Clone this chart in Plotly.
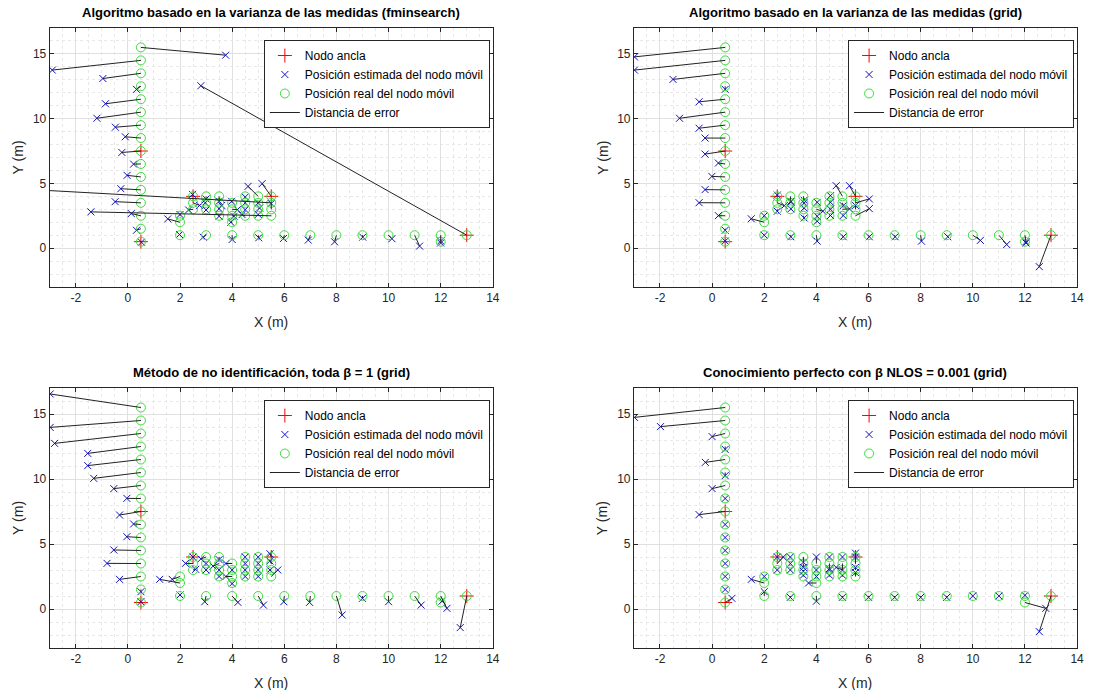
import plotly.graph_objects as go

# ---------------- data ----------------
titles = [
    "Algoritmo basado en la varianza de las medidas (fminsearch)",
    "Algoritmo basado en la varianza de las medidas (grid)",
    "Método de no identificación, toda β = 1 (grid)",
    "Conocimiento perfecto con β NLOS = 0.001 (grid)",
]
legend_names = ["Nodo ancla", "Posición estimada del nodo móvil",
                "Posición real del nodo móvil", "Distancia de error"]

x_tickvals = [-2, 0, 2, 4, 6, 8, 10, 12, 14]
x_ticktext = ["-2", "0", "2", "4", "6", "8", "10", "12", "14"]
y_tickvals = [0, 5, 10, 15]
y_ticktext = ["0", "5", "10", "15"]

anchor_x = [0.5, 0.5, 2.5, 5.5, 13]
anchor_y = [0.5, 7.5, 4, 4, 1]

real_x = [0.5, 0.5, 0.5, 0.5, 0.5, 0.5, 0.5, 0.5, 0.5, 0.5, 0.5, 0.5, 0.5, 0.5, 0.5, 0.5,
          2, 2, 2,
          2.5, 2.5, 2.5,
          3, 3, 3,
          3.5, 3.5, 3.5, 3.5,
          4, 4, 4, 4,
          4.5, 4.5, 4.5, 4.5,
          5, 5, 5, 5,
          5.5, 5.5, 5.5, 5.5,
          3, 4, 5, 6, 7, 8, 9, 10, 11, 12, 13,
          12]
real_y = [15.5, 14.5, 13.5, 12.5, 11.5, 10.5, 9.5, 8.5, 7.5, 6.5, 5.5, 4.5, 3.5, 2.5, 1.5, 0.5,
          2.5, 2, 1,
          4, 3.5, 3,
          4, 3.5, 3,
          4, 3.5, 3, 2.5,
          3.5, 3, 2.5, 2,
          4, 3.5, 3, 2.5,
          4, 3.5, 3, 2.5,
          4, 3.5, 3, 2.5,
          1, 1, 1, 1, 1, 1, 1, 1, 1, 1, 1,
          0.5]

est1_x = [3.75, -2.9, -0.96, 0.33, -0.86, -1.19, -0.48, -0.1, -0.23, 0.22, -0.03, -0.27, -0.49, 0.13, 0.33, 0.52,
          2.0, 1.53, 1.98,
          2.48, 2.75, 2.33,
          3.0, 2.97, 3.0,
          3.5, 3.6, 3.5, 3.5,
          3.98, 4.2, 4.07, 3.95,
          4.5, 4.5, 4.5, 4.38,
          4.61, 5.0, 5.05, 5.0,
          5.15, -3.5, 5.5, -1.42,
          2.89, 4.0, 5.02, 5.97, 6.92, 7.93, 9.01, 10.13, 11.19, 12.0, 2.8,
          12.0]
est1_y = [14.9, 13.75, 13.1, 12.26, 11.15, 10.03, 9.34, 8.6, 7.39, 6.49, 5.62, 4.59, 3.59, 2.67, 1.38, 0.46,
          2.6, 2.26, 1.05,
          4.15, 3.3, 2.95,
          3.8, 3.5, 2.95,
          3.62, 3.3, 3.05, 2.46,
          3.62, 2.97, 2.46, 2.0,
          3.95, 3.5, 2.97, 2.59,
          4.77, 3.5, 3.1, 2.6,
          4.98, 4.5, 3.45, 2.8,
          0.85, 0.67, 0.8, 0.75, 0.62, 0.49, 0.85, 0.73, 0.16, 0.55, 12.54,
          0.4]

est2_x = [-2.98, -2.98, -1.5, 0.5, -0.5, -1.25, -0.5, -0.27, -0.27, 0.24, -0.01, -0.27, -0.5, 0.24, 0.5, 0.5,
          2.0, 1.5, 2.0,
          2.5, 2.77, 2.5,
          3.02, 3.02, 3.02,
          3.53, 3.53, 3.53, 3.53,
          4.03, 4.25, 4.03, 4.03,
          4.54, 4.54, 4.54, 4.54,
          4.76, 5.03, 5.27, 5.03,
          5.27, 6.03, 5.5, 6.03,
          3.02, 4.03, 5.03, 6.03, 7.02, 8.03, 9.04, 10.29, 11.3, 12.04, 12.55,
          12.04]
est2_y = [14.77, 13.75, 13.03, 12.26, 11.3, 10.03, 9.26, 8.5, 7.26, 6.57, 5.54, 4.52, 3.51, 2.51, 1.38, 0.55,
          2.5, 2.27, 1.0,
          4.1, 3.28, 2.85,
          3.62, 3.55, 3.03,
          3.7, 3.49, 3.1, 2.33,
          3.54, 2.85, 2.46, 2.08,
          4.05, 3.54, 3.0, 2.52,
          4.82, 3.28, 3.03, 2.52,
          4.82, 3.8, 3.3, 3.05,
          0.88, 0.54, 0.88, 0.88, 0.88, 0.54, 0.88, 0.6, 0.28, 0.5, -1.43,
          0.4]

est3_x = [-2.98, -2.98, -2.81, -1.54, -1.54, -1.31, -0.54, -0.04, -0.32, 0.22, -0.04, -0.54, -0.8, -0.32, 0.5, 0.5,
          1.7, 1.22, 2.0,
          2.5, 2.21, 2.6,
          2.8, 3.0, 3.0,
          3.5, 3.27, 3.5, 3.5,
          3.76, 4.0, 3.76, 4.0,
          4.5, 4.5, 4.5, 4.5,
          5.0, 5.0, 5.0, 5.0,
          5.45, 5.45, 5.45, 5.75,
          2.95, 4.22, 5.2, 5.98, 6.97, 8.22, 9.0, 10.0, 11.25, 12.24, 12.75,
          12.05]
est3_y = [16.54, 13.97, 12.74, 11.97, 11.03, 10.05, 9.26, 8.51, 7.23, 6.54, 5.56, 4.54, 3.51, 2.28, 1.33, 0.56,
          2.28, 2.28, 1.08,
          4.0, 3.51, 3.05,
          3.85, 3.5, 3.0,
          3.8, 3.3, 3.0, 2.5,
          3.5, 3.0, 2.5, 1.95,
          4.0, 3.5, 3.0, 2.5,
          4.0, 3.5, 3.0, 2.5,
          4.25, 3.7, 3.0, 3.0,
          0.56, 0.51, 0.3, 0.56, 0.51, -0.46, 0.82, 0.56, 0.3, 0.05, -1.43,
          0.6]

est4_x = [-2.98, -1.98, 0.0, 0.5, -0.26, 0.5, 0.0, 0.5, -0.5, 0.5, 0.5, 0.5, 0.5, 0.5, 0.5, 0.76,
          2.0, 1.5, 2.0,
          2.5, 2.73, 2.5,
          3.0, 3.0, 3.0,
          3.5, 3.5, 3.5, 3.5,
          4.0, 4.0, 4.0, 3.7,
          4.5, 4.5, 4.5, 4.5,
          5.0, 5.0, 4.76, 5.0,
          5.5, 5.5, 5.5, 5.5,
          3.0, 4.0, 5.0, 6.0, 7.0, 8.0, 9.0, 10.0, 11.0, 12.0, 12.55,
          12.8]
est4_y = [14.74, 14.03, 13.26, 12.28, 11.28, 10.26, 9.26, 8.5, 7.26, 6.5, 5.5, 4.5, 3.5, 2.5, 1.5, 0.82,
          2.5, 2.28, 1.33,
          4.0, 4.0, 3.0,
          4.0, 3.5, 3.0,
          3.6, 3.2, 2.9, 2.6,
          4.0, 3.0, 2.5, 2.0,
          4.0, 3.1, 3.0, 2.6,
          4.0, 3.0, 3.2, 2.6,
          4.3, 4.0, 3.2, 2.8,
          0.9, 0.6, 0.9, 0.9, 0.9, 0.9, 0.9, 1.0, 1.0, 1.05, -1.74,
          0.05]

x_range = [-3, 14]
y_range = [-3, 17]

# ---------------- layout geometry (pixels) ----------------
W, H = 1095, 690
col_px = [(50, 496), (638, 1084)]
row_px = [(28, 287), (388, 648)]

FONT = "Liberation Sans, Arial, Helvetica, sans-serif"
TXT = "#262626"

fig = go.Figure()

est_sets = [(est1_x, est1_y), (est2_x, est2_y), (est3_x, est3_y), (est4_x, est4_y)]
layout = dict()

for i, (ex, ey) in enumerate(est_sets):
    r, c = divmod(i, 2)
    n = i + 1
    xa = "x" if n == 1 else f"x{n}"
    ya = "y" if n == 1 else f"y{n}"
    lg = "legend" if n == 1 else f"legend{n}"

    lx, ly = [], []
    for a, b, p, q in zip(real_x, real_y, ex, ey):
        lx += [a, p, None]
        ly += [b, q, None]

    fig.add_trace(go.Scatter(x=anchor_x, y=anchor_y, mode="markers", name=legend_names[0],
                             marker=dict(symbol="cross-thin-open", size=10, color="red",
                                         line=dict(color="red", width=1)),
                             xaxis=xa, yaxis=ya, legend=lg))
    fig.add_trace(go.Scatter(x=ex, y=ey, mode="markers", name=legend_names[1],
                             marker=dict(symbol="x-thin-open", size=7, color="#1010c0",
                                         line=dict(color="#1010c0", width=1)),
                             xaxis=xa, yaxis=ya, legend=lg))
    fig.add_trace(go.Scatter(x=real_x, y=real_y, mode="markers", name=legend_names[2],
                             marker=dict(symbol="circle-open", size=9, color="#3ddc3d",
                                         line=dict(color="#3ddc3d", width=1)),
                             xaxis=xa, yaxis=ya, legend=lg))
    fig.add_trace(go.Scatter(x=lx, y=ly, mode="lines", name=legend_names[3],
                             line=dict(color="#222222", width=1),
                             xaxis=xa, yaxis=ya, legend=lg))

    x0, x1 = col_px[c]
    y0, y1 = row_px[r]
    axis_common = dict(ticks="inside", ticklen=4, tickwidth=1, tickcolor=TXT,
                       showline=True, linecolor=TXT, linewidth=1, mirror="ticks",
                       showgrid=True, gridcolor="#e0e0e0", gridwidth=1, zeroline=False,
                       tickfont=dict(family=FONT, size=12, color=TXT), fixedrange=True)
    layout["xaxis" if n == 1 else f"xaxis{n}"] = dict(
        axis_common, domain=[x0 / W, x1 / W], range=x_range,
        tickmode="array", tickvals=x_tickvals, ticktext=x_ticktext,
        anchor=ya,
        minor=dict(dtick=0.5, tick0=0, showgrid=True, gridcolor="#e8e8e8", griddash="dot", ticks=""))
    layout["yaxis" if n == 1 else f"yaxis{n}"] = dict(
        axis_common, domain=[1 - y1 / H, 1 - y0 / H], range=y_range,
        tickmode="array", tickvals=y_tickvals, ticktext=y_ticktext,
        anchor=xa,
        minor=dict(dtick=1, tick0=0, showgrid=True, gridcolor="#e8e8e8", griddash="dot", ticks=""))
    layout[lg] = dict(x=(x0 + 443) / W, y=1 - (y0 + 12) / H, xanchor="right", yanchor="top",
                      xref="paper", yref="paper", bgcolor="white", bordercolor=TXT,
                      borderwidth=1, font=dict(family=FONT, size=12, color="black"),
                      tracegroupgap=0, itemwidth=30)

annotations = []
for i, t in enumerate(titles):
    r, c = divmod(i, 2)
    x0, x1 = col_px[c]
    y0, y1 = row_px[r]
    cx = (x0 + x1) / 2
    annotations.append(dict(text=f"<b>{t}</b>", x=cx / W, y=1 - (y0 - 16) / H, xref="paper",
                            yref="paper", xanchor="center", yanchor="middle", showarrow=False,
                            font=dict(family=FONT, size=13, color="black")))
    annotations.append(dict(text="X (m)", x=cx / W, y=1 - (y1 + 35) / H, xref="paper",
                            yref="paper", xanchor="center", yanchor="middle", showarrow=False,
                            font=dict(family=FONT, size=14, color=TXT)))
    annotations.append(dict(text="Y (m)", x=(x0 - 32) / W, y=1 - ((y0 + y1) / 2) / H,
                            xref="paper", yref="paper", xanchor="center", yanchor="middle",
                            showarrow=False, textangle=-90,
                            font=dict(family=FONT, size=14, color=TXT)))

fig.update_layout(**layout)
fig.update_layout(width=W, height=H, autosize=False, margin=dict(l=0, r=0, t=0, b=0),
                  paper_bgcolor="white", plot_bgcolor="white", annotations=annotations,
                  showlegend=True)

fig.write_html("out.html")
